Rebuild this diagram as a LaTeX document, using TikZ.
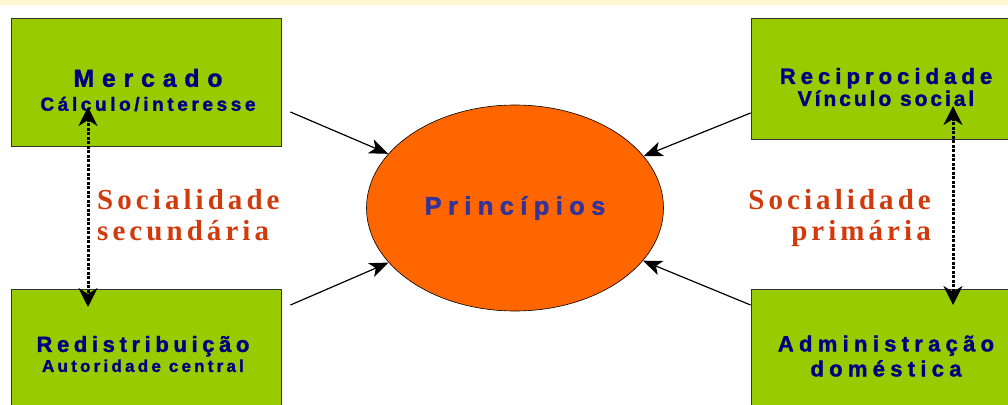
\documentclass[tikz,border=0pt]{standalone}
\usepackage{fontspec}
\setmainfont{Liberation Serif}
\newfontfamily\boxfont{Liberation Sans}[BoldFeatures={FakeBold=1.6}]
\usetikzlibrary{arrows.meta, positioning, shapes.geometric}
\definecolor{boxgreen}{HTML}{99CC00}
\definecolor{princorange}{HTML}{FF6600}
\definecolor{boxnavy}{HTML}{000080}
\definecolor{princblue}{HTML}{333399}
\definecolor{socred}{HTML}{D03A0C}
\definecolor{bandyellow}{HTML}{FFF7D1}
\newcommand{\spaced}[3]{{\addfontfeatures{LetterSpace=#1}\fontsize{#2}{#2}\selectfont #3}}
\tikzset{
    greenbox/.style={rectangle, draw=black!80, line width=0.9pt, fill=boxgreen, minimum width=270pt, inner sep=0pt},
    boxtext/.style={align=center, text=boxnavy, font=\boxfont\bfseries\fontsize{20}{22}\selectfont, inner sep=0pt},
    principle/.style={ellipse, draw=black, line width=0.6pt, fill=princorange, minimum width=297pt, minimum height=206pt, inner sep=0pt, text=princblue, font=\boxfont\bfseries},
    soclabel/.style={text=socred, font=\bfseries\fontsize{29}{31}\selectfont, inner sep=0pt},
    arrow/.style={-{Stealth[length=19pt, width=15pt, inset=5pt]}, line width=1.2pt, draw=black},
    dottedarrow/.style={{Stealth[length=19pt, width=19pt, inset=6pt]}-{Stealth[length=19pt, width=19pt, inset=6pt]}, line width=3pt, dash pattern=on 3pt off 1.5pt, draw=black}
}
\begin{document}
\begin{tikzpicture}[x=1pt, y=-1pt]
    \clip (0,0) rectangle (1008,404);
    \useasboundingbox (0,0) rectangle (1008,404);
    \fill[bandyellow] (0,0) rectangle (1008,5);
    % the four boxes
    \node[greenbox, minimum height=128pt] (mercado) at (146,82) {};
    \node[greenbox, minimum height=121pt] (recipro) at (886,78.5) {};
    \node[greenbox, minimum height=130pt] (redist) at (146,354) {};
    \node[greenbox, minimum height=130pt] (admin) at (886,354) {};
    \node[boxtext] (mercadotxt) at (148,90) {\spaced{32}{24.7}{Mercado}\\[2pt]\spaced{19}{19}{Cálculo/interesse}};
    \node[boxtext] (reciprotxt) at (886,87) {\spaced{23}{22}{Reciprocidade}\\[0pt]\spaced{14}{21}{Vínculo social}};
    \node[boxtext] (redisttxt) at (143,354) {\spaced{21}{22}{Redistribuição}\\[-2pt]\spaced{19}{17}{Autoridade central}};
    \node[boxtext] (admintxt) at (886,356) {\spaced{24}{22}{Administração}\\[3pt]\spaced{24}{22}{doméstica}};
    % centre
    \node[principle] (princ) at (515,208) {\spaced{25}{25.5}{Princípios}};
    % sociality labels
    \node[soclabel, anchor=north west, align=left] (secund) at (97,189) {\spaced{14}{29}{Socialidade}\\\spaced{14}{29}{secundária}};
    \node[soclabel, anchor=north east, align=right] (primar) at (931,189) {\spaced{14}{29}{Socialidade}\\\spaced{14}{29}{primária}};
    % arrows into the centre
    \coordinate (mercado-out) at ([shift={(9,30)}]mercado.east);
    \coordinate (redist-out) at ([shift={(9,-49)}]redist.east);
    \coordinate (recipro-out) at ([shift={(0,34.5)}]recipro.west);
    \coordinate (admin-out) at ([shift={(0,-49)}]admin.west);
    \draw[arrow] (mercado-out) -- (princ);
    \draw[arrow] (redist-out) -- (princ);
    \draw[arrow] (recipro-out) -- (princ);
    \draw[arrow] (admin-out) -- (princ);
    % dotted links
    \coordinate (left-top) at (88,107);
    \coordinate (left-bot) at (88,307);
    \coordinate (right-top) at (953,106);
    \coordinate (right-bot) at (953,305);
    \draw[dottedarrow] (left-top) -- (left-bot);
    \draw[dottedarrow] (right-top) -- (right-bot);
\end{tikzpicture}
\end{document}
